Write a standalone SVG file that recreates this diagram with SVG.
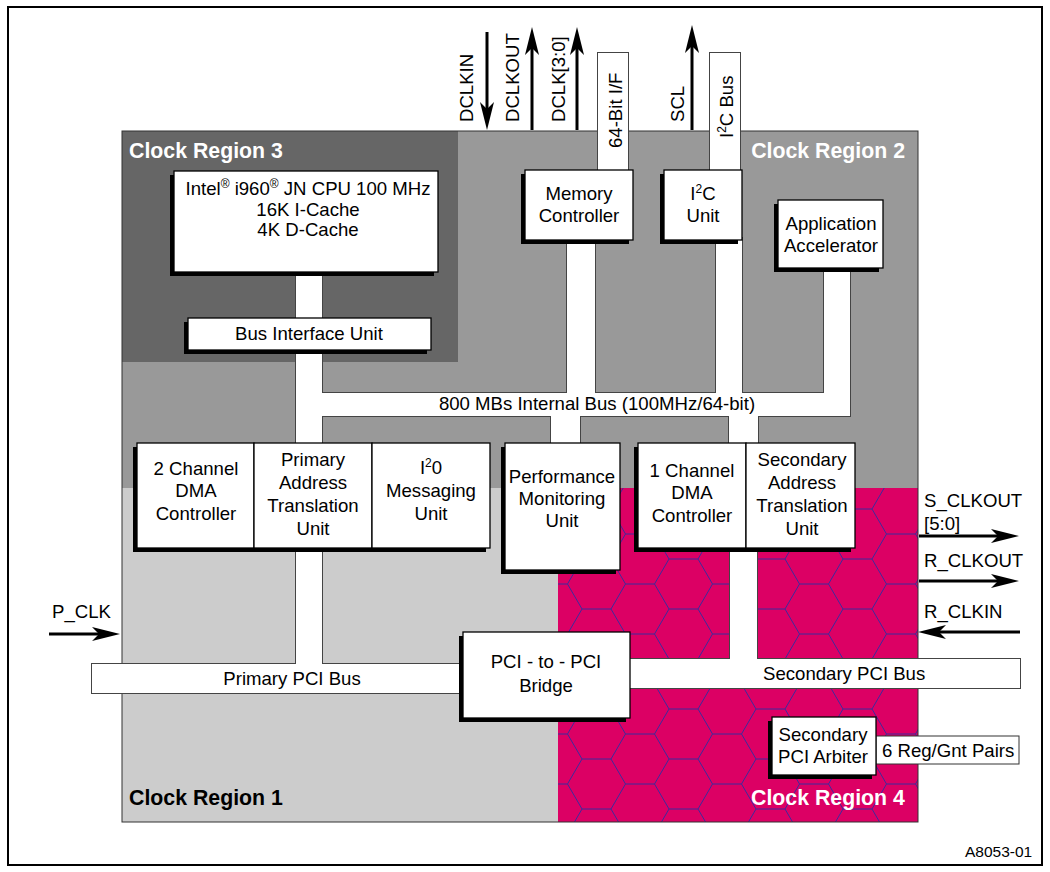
<svg xmlns="http://www.w3.org/2000/svg" xmlns:xlink="http://www.w3.org/1999/xlink" width="1050" height="872" viewBox="0 0 1050 872">
<style>
.t{font-family:"Liberation Sans",Arial,sans-serif;font-size:18.6px;fill:#000}
.c{text-anchor:middle}
.rl{font-family:"Liberation Sans",Arial,sans-serif;font-size:21.3px;font-weight:bold}
.w{fill:#fff}
.box{fill:#fff;stroke:#000;stroke-width:1.3}
.sh{fill:#000}
.bar{fill:#fff;stroke:#333;stroke-width:1}
.busStroke{fill:#fff;stroke:#444;stroke-width:2}
.busFill{fill:#fff;stroke:none}
.arr{stroke:#000;stroke-width:3;fill:none;marker-end:url(#ah)}
.sup{font-size:12px}
</style>
<defs>
<marker id="ah" markerUnits="userSpaceOnUse" markerWidth="28" markerHeight="14" viewBox="0 0 28 14" refX="18" refY="7" orient="auto">
<path d="M0,0 L28,7 L0,14 L7,7 Z" fill="#000"/>
</marker>
<pattern id="hex" patternUnits="userSpaceOnUse" x="640" y="559" width="87" height="50">
<rect width="87" height="50" fill="#dc0064"/>
<path d="M14.5,25 L29,0 L58,0 L72.5,25 L58,50 L29,50 Z M0,25 H14.5 M72.5,25 H87" fill="none" stroke="#3b2a9c" stroke-width="1"/>
</pattern>
<g id="busShapes">
<rect x="598" y="53" width="30" height="120"/>
<rect x="710" y="53" width="30" height="120"/>
<rect x="296" y="272" width="26" height="392"/>
<rect x="296" y="393" width="554" height="23"/>
<rect x="567" y="238" width="28" height="156"/>
<rect x="716" y="238" width="26" height="156"/>
<rect x="824" y="266" width="26" height="150"/>
<rect x="551" y="415" width="29" height="30"/>
<rect x="729" y="415" width="29" height="30"/>
<rect x="730" y="546" width="27" height="114"/>
<rect x="92" y="664" width="372" height="29"/>
<rect x="628" y="659" width="392" height="29"/>
</g>
</defs>

<rect x="8" y="7" width="1034" height="858" fill="#fff" stroke="#000" stroke-width="2"/>

<g id="regions">
<rect x="122" y="131" width="796" height="357" fill="#999"/>
<rect x="122" y="131" width="336" height="231" fill="#666"/>
<rect x="122" y="488" width="436" height="334" fill="#ccc"/>
<rect x="558" y="488" width="360" height="334" fill="url(#hex)"/>
<rect x="122" y="131" width="796" height="691" fill="none" stroke="#333" stroke-width="1"/>
<text class="rl w" x="129" y="158">Clock Region 3</text>
<text class="rl w" x="905" y="158" text-anchor="end">Clock Region 2</text>
<text class="rl" x="129" y="805">Clock Region 1</text>
<text class="rl w" x="751" y="805">Clock Region 4</text>
</g>

<g id="connectors">
<use xlink:href="#busShapes" class="busStroke"/>
<use xlink:href="#busShapes" class="busFill"/>
<text class="t c" x="597" y="410">800 MBs Internal Bus (100MHz/64-bit)</text>
<line class="arr" x1="487" y1="32" x2="487" y2="120"/>
<line class="arr" x1="532" y1="130" x2="532" y2="37"/>
<line class="arr" x1="577" y1="130" x2="577" y2="37"/>
<line class="arr" x1="692" y1="130" x2="692" y2="35"/>
<line class="arr" x1="49" y1="634" x2="110" y2="634"/>
<line class="arr" x1="919" y1="536" x2="1009" y2="536"/>
<line class="arr" x1="919" y1="581" x2="1009" y2="581"/>
<line class="arr" x1="1020" y1="632" x2="928" y2="632"/>
<text class="t" transform="translate(473,122) rotate(-90)">DCLKIN</text>
<text class="t" transform="translate(519,122) rotate(-90)">DCLKOUT</text>
<text class="t" transform="translate(565,122) rotate(-90)">DCLK[3:0]</text>
<text class="t" transform="translate(684,122) rotate(-90)">SCL</text>
<text class="t" transform="translate(622,148) rotate(-90)">64-Bit I/F</text>
<text class="t" transform="translate(733,138) rotate(-90)">I<tspan class="sup" dy="-7">2</tspan><tspan dy="7">C Bus</tspan></text>
<text class="t" x="52" y="618">P_CLK</text>
<text class="t" x="924" y="507">S_CLKOUT</text>
<text class="t" x="924" y="530">[5:0]</text>
<text class="t" x="924" y="567">R_CLKOUT</text>
<text class="t" x="924" y="618">R_CLKIN</text>
</g>

<g id="cpu">
<rect class="sh" x="170" y="175" width="264" height="101"/>
<rect class="box" x="174" y="171" width="264" height="101"/>
<text class="t c" x="308" y="195">Intel<tspan class="sup" dy="-7">®</tspan><tspan dy="7"> i960</tspan><tspan class="sup" dy="-7">®</tspan><tspan dy="7"> JN CPU 100 MHz</tspan></text>
<text class="t c" x="308" y="216">16K I-Cache</text>
<text class="t c" x="308" y="236">4K D-Cache</text>
</g>

<g id="biu">
<rect class="sh" x="184" y="322" width="243" height="32"/>
<rect class="box" x="188" y="318" width="243" height="32"/>
<text class="t c" x="309" y="340">Bus Interface Unit</text>
</g>

<g id="memory-controller">
<rect class="sh" x="521" y="174" width="108" height="70"/>
<rect class="box" x="525" y="170" width="108" height="70"/>
<text class="t c" x="579" y="200">Memory</text>
<text class="t c" x="579" y="222">Controller</text>
</g>

<g id="i2c-unit">
<rect class="sh" x="660" y="174" width="78" height="70"/>
<rect class="box" x="664" y="170" width="78" height="70"/>
<text class="t c" x="703" y="200">I<tspan class="sup" dy="-7">2</tspan><tspan dy="7">C</tspan></text>
<text class="t c" x="703" y="222">Unit</text>
</g>

<g id="app-accelerator">
<rect class="sh" x="774" y="204" width="105" height="68"/>
<rect class="box" x="778" y="200" width="105" height="68"/>
<text class="t c" x="831" y="230">Application</text>
<text class="t c" x="831" y="252">Accelerator</text>
</g>

<g id="primary-block">
<rect class="sh" x="133" y="447" width="353" height="105"/>
<g id="dma2">
<rect class="box" x="137" y="443" width="117" height="105"/>
<text class="t c" x="196" y="475">2 Channel</text>
<text class="t c" x="196" y="497">DMA</text>
<text class="t c" x="196" y="520">Controller</text>
</g>
<g id="patu">
<rect class="box" x="254" y="443" width="118" height="105"/>
<text class="t c" x="313" y="466">Primary</text>
<text class="t c" x="313" y="489">Address</text>
<text class="t c" x="313" y="512">Translation</text>
<text class="t c" x="313" y="535">Unit</text>
</g>
<g id="i2o">
<rect class="box" x="372" y="443" width="118" height="105"/>
<text class="t c" x="431" y="474">I<tspan class="sup" dy="-7">2</tspan><tspan dy="7">0</tspan></text>
<text class="t c" x="431" y="497">Messaging</text>
<text class="t c" x="431" y="520">Unit</text>
</g>
</g>

<g id="pmu">
<rect class="sh" x="501" y="447" width="115" height="127"/>
<rect class="box" x="505" y="443" width="115" height="127"/>
<text class="t c" x="562" y="483">Performance</text>
<text class="t c" x="562" y="505">Monitoring</text>
<text class="t c" x="562" y="527">Unit</text>
</g>

<g id="secondary-block">
<rect class="sh" x="634" y="447" width="217" height="105"/>
<g id="dma1">
<rect class="box" x="638" y="443" width="108" height="105"/>
<text class="t c" x="692" y="477">1 Channel</text>
<text class="t c" x="692" y="499">DMA</text>
<text class="t c" x="692" y="522">Controller</text>
</g>
<g id="satu">
<rect class="box" x="746" y="443" width="109" height="105"/>
<text class="t c" x="802" y="466">Secondary</text>
<text class="t c" x="802" y="489">Address</text>
<text class="t c" x="802" y="512">Translation</text>
<text class="t c" x="802" y="535">Unit</text>
</g>
</g>

<g id="primary-pci-bus">
<text class="t c" x="292" y="685">Primary PCI Bus</text>
</g>

<g id="secondary-pci-bus">
<text class="t" x="763" y="680">Secondary PCI Bus</text>
</g>

<g id="bridge">
<rect class="sh" x="459" y="636" width="167" height="86"/>
<rect class="box" x="463" y="632" width="167" height="86"/>
<text class="t c" x="546" y="668">PCI - to - PCI</text>
<text class="t c" x="546" y="692">Bridge</text>
</g>

<g id="reg-gnt">
<rect class="bar" x="876" y="736" width="143" height="28"/>
<text class="t" x="882" y="757">6 Reg/Gnt Pairs</text>
</g>

<g id="arbiter">
<rect class="sh" x="768" y="721" width="104" height="58"/>
<rect class="box" x="772" y="717" width="104" height="58"/>
<text class="t c" x="823" y="741">Secondary</text>
<text class="t c" x="823" y="763">PCI Arbiter</text>
</g>

<text class="t" x="965" y="857" style="font-size:15.5px">A8053-01</text>
</svg>
